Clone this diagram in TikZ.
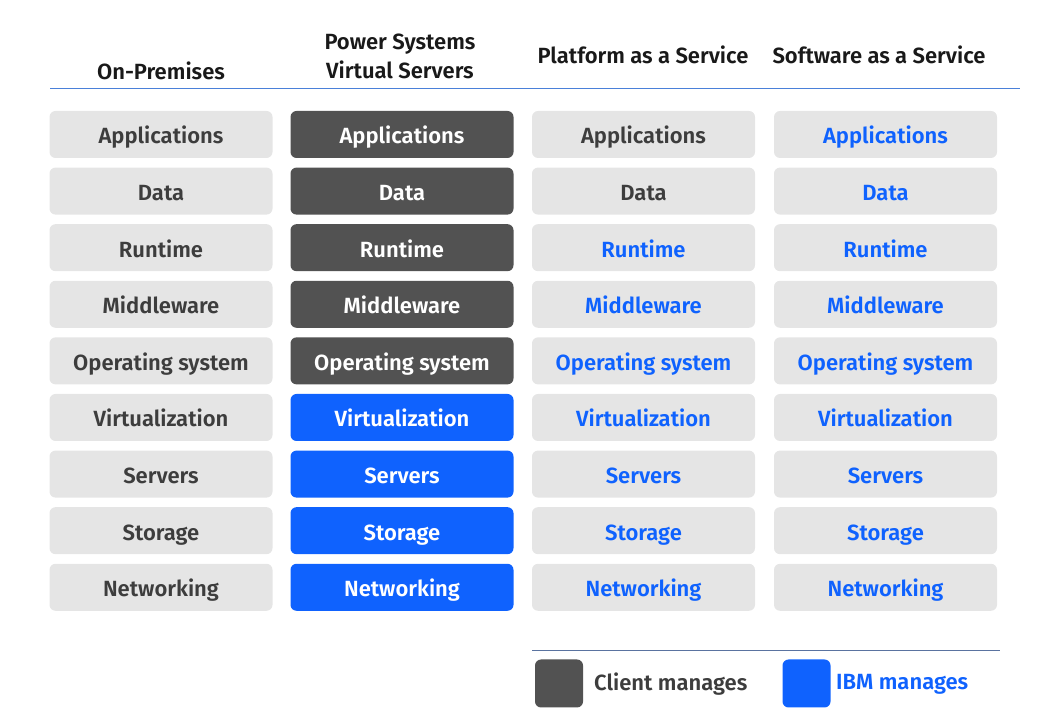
\documentclass[tikz,border=0pt]{standalone}
\usepackage{fontspec}
\setmainfont{Fira Sans}[BoldFont={Fira Sans SemiBold}]
\usetikzlibrary{calc}
\usetikzlibrary{positioning}
\definecolor{lgray}{HTML}{E5E5E5}
\definecolor{dgray}{HTML}{525252}
\definecolor{tgray}{HTML}{3D3D3D}
\definecolor{ibmblue}{HTML}{0F62FE}
\definecolor{headline}{HTML}{4A80D9}
\definecolor{legline}{HTML}{5A73A0}
\tikzstyle{layer} = [rectangle, rounded corners=6pt, minimum width=223pt, minimum height=47pt, inner sep=0pt, text height=19pt, text depth=0pt, font=\fontsize{22}{26}\selectfont\bfseries]
\tikzstyle{colorOwn} = [fill=lgray, text=tgray]
\tikzstyle{colorClient} = [fill=dgray, text=white]
\tikzstyle{colorIBM} = [fill=ibmblue, text=white]
\tikzstyle{colorIBMText} = [fill=lgray, text=ibmblue]
\tikzstyle{header} = [align=center, text=black!90, font=\fontsize{22}{29}\selectfont\bfseries]
\tikzstyle{legendbox} = [rectangle, rounded corners=6pt, minimum size=48pt, inner sep=0pt]
\tikzstyle{legendtext} = [anchor=west, inner sep=0pt, font=\fontsize{22}{26}\selectfont\bfseries]

\begin{document}
\begin{tikzpicture}[x=1pt, y=1pt]
\useasboundingbox (0,0) rectangle (1047,720);

% column headers
\node[header] (head_onprem) at (161,649) {On-Premises};
\node[header] (head_power) at (400,663.5) {Power Systems\\Virtual Servers};
\node[header] (head_paas) at (643,665) {Platform as a Service};
\node[header] (head_saas) at (879,665) {Software as a Service};
\coordinate (rule_left) at (50,632);
\coordinate (rule_right) at (1020,632);
\draw[headline, line width=0.8pt] (rule_left) -- (rule_right);

% on-premises
\node[layer, colorOwn] (onprem_apps) at (161,585.5) {Applications};
\node[layer, colorOwn] (onprem_data) at ($(onprem_apps)+(0,-56.6)$) {Data};
\node[layer, colorOwn] (onprem_runtime) at ($(onprem_data)+(0,-56.6)$) {Runtime};
\node[layer, colorOwn] (onprem_middle) at ($(onprem_runtime)+(0,-56.6)$) {Middleware};
\node[layer, colorOwn] (onprem_os) at ($(onprem_middle)+(0,-56.6)$) {Operating system};
\node[layer, colorOwn] (onprem_virt) at ($(onprem_os)+(0,-56.6)$) {Virtualization};
\node[layer, colorOwn] (onprem_servers) at ($(onprem_virt)+(0,-56.6)$) {Servers};
\node[layer, colorOwn] (onprem_storage) at ($(onprem_servers)+(0,-56.6)$) {Storage};
\node[layer, colorOwn] (onprem_net) at ($(onprem_storage)+(0,-56.6)$) {Networking};

% power systems virtual servers
\node[layer, colorClient] (power_apps) at ($(onprem_apps)+(241,0)$) {Applications};
\node[layer, colorClient] (power_data) at ($(power_apps)+(0,-56.6)$) {Data};
\node[layer, colorClient] (power_runtime) at ($(power_data)+(0,-56.6)$) {Runtime};
\node[layer, colorClient] (power_middle) at ($(power_runtime)+(0,-56.6)$) {Middleware};
\node[layer, colorClient] (power_os) at ($(power_middle)+(0,-56.6)$) {Operating system};
\node[layer, colorIBM] (power_virt) at ($(power_os)+(0,-56.6)$) {Virtualization};
\node[layer, colorIBM] (power_servers) at ($(power_virt)+(0,-56.6)$) {Servers};
\node[layer, colorIBM] (power_storage) at ($(power_servers)+(0,-56.6)$) {Storage};
\node[layer, colorIBM] (power_net) at ($(power_storage)+(0,-56.6)$) {Networking};

% platform as a service
\node[layer, colorOwn] (paas_apps) at ($(power_apps)+(241.5,0)$) {Applications};
\node[layer, colorOwn] (paas_data) at ($(paas_apps)+(0,-56.6)$) {Data};
\node[layer, colorIBMText] (paas_runtime) at ($(paas_data)+(0,-56.6)$) {Runtime};
\node[layer, colorIBMText] (paas_middle) at ($(paas_runtime)+(0,-56.6)$) {Middleware};
\node[layer, colorIBMText] (paas_os) at ($(paas_middle)+(0,-56.6)$) {Operating system};
\node[layer, colorIBMText] (paas_virt) at ($(paas_os)+(0,-56.6)$) {Virtualization};
\node[layer, colorIBMText] (paas_servers) at ($(paas_virt)+(0,-56.6)$) {Servers};
\node[layer, colorIBMText] (paas_storage) at ($(paas_servers)+(0,-56.6)$) {Storage};
\node[layer, colorIBMText] (paas_net) at ($(paas_storage)+(0,-56.6)$) {Networking};

% software as a service
\node[layer, colorIBMText] (saas_apps) at ($(paas_apps)+(242,0)$) {Applications};
\node[layer, colorIBMText] (saas_data) at ($(saas_apps)+(0,-56.6)$) {Data};
\node[layer, colorIBMText] (saas_runtime) at ($(saas_data)+(0,-56.6)$) {Runtime};
\node[layer, colorIBMText] (saas_middle) at ($(saas_runtime)+(0,-56.6)$) {Middleware};
\node[layer, colorIBMText] (saas_os) at ($(saas_middle)+(0,-56.6)$) {Operating system};
\node[layer, colorIBMText] (saas_virt) at ($(saas_os)+(0,-56.6)$) {Virtualization};
\node[layer, colorIBMText] (saas_servers) at ($(saas_virt)+(0,-56.6)$) {Servers};
\node[layer, colorIBMText] (saas_storage) at ($(saas_servers)+(0,-56.6)$) {Storage};
\node[layer, colorIBMText] (saas_net) at ($(saas_storage)+(0,-56.6)$) {Networking};

% legend
\coordinate (legend_left) at (532,70);
\coordinate (legend_right) at (1000,70);
\draw[legline, line width=0.8pt] (legend_left) -- (legend_right);
\node[legendbox, fill=dgray] (legend_client) at (559,36.5) {};
\node[legendtext, text=tgray] (legend_client_text) at (594,35.5) {Client manages};
\node[legendbox, fill=ibmblue] (legend_ibm) at (806.5,36.5) {};
\node[legendtext, text=ibmblue] (legend_ibm_text) at (836,35.5) {IBM manages};
\end{tikzpicture}
\end{document}
